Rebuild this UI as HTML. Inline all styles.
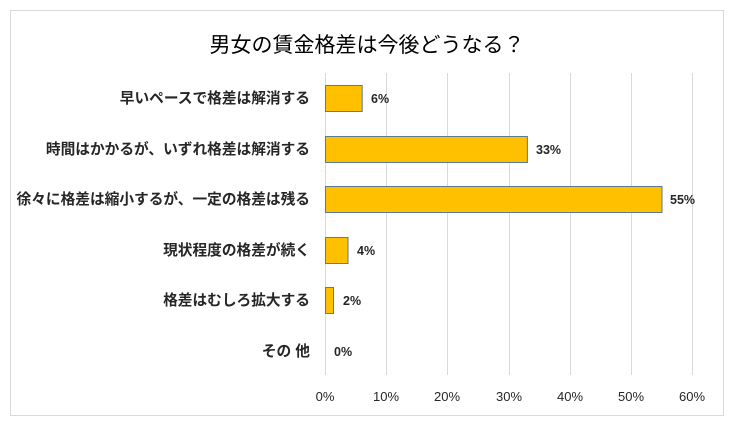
<!DOCTYPE html>
<html><head><meta charset="utf-8"><style>
body{margin:0;background:#fff;}
svg text{font-family:"Liberation Sans","Noto Sans CJK JP",sans-serif;}
</style></head><body>
<svg width="734" height="431" xmlns="http://www.w3.org/2000/svg">
<rect x="0" y="0" width="734" height="431" fill="#fff"/>
<rect x="10.5" y="10.5" width="713" height="405" fill="#fff" stroke="#d9d9d9"/>
<text x="367" y="52" font-size="21" text-anchor="middle" fill="#000">男女の賃金格差は今後どうなる？</text>
<g stroke="#d9d9d9" stroke-width="1">
<line x1="325.5" y1="73" x2="325.5" y2="375"/>
<line x1="386.5" y1="73" x2="386.5" y2="375"/>
<line x1="447.5" y1="73" x2="447.5" y2="375"/>
<line x1="509.5" y1="73" x2="509.5" y2="375"/>
<line x1="570.5" y1="73" x2="570.5" y2="375"/>
<line x1="631.5" y1="73" x2="631.5" y2="375"/>
<line x1="692.5" y1="73" x2="692.5" y2="375"/>
</g>
<g font-size="13" fill="#262626" text-anchor="middle">
<text x="325" y="401">0%</text><text x="386" y="401">10%</text><text x="447" y="401">20%</text>
<text x="509" y="401">30%</text><text x="570" y="401">40%</text><text x="631" y="401">50%</text><text x="692" y="401">60%</text>
</g>
<g fill="#ffc000" stroke="#5b7a95" stroke-width="1">
<rect x="325.5" y="85.5" width="36.7" height="26"/>
<rect x="325.5" y="136.5" width="201.9" height="26"/>
<rect x="325.5" y="186.5" width="336.5" height="26"/>
<rect x="325.5" y="237.5" width="22.5" height="26"/>
<rect x="325.5" y="287.5" width="8" height="26"/>
</g>
<g font-size="12.5" font-weight="bold" fill="#262626">
<text x="371" y="103">6%</text>
<text x="536" y="154">33%</text>
<text x="670" y="204">55%</text>
<text x="357" y="255">4%</text>
<text x="343" y="305">2%</text>
<text x="334" y="356">0%</text>
</g>
<g font-size="14.7" font-weight="bold" fill="#262626" text-anchor="end">
<text x="310" y="103">早いペースで格差は解消する</text>
<text x="310" y="154">時間はかかるが、いずれ格差は解消する</text>
<text x="310" y="204">徐々に格差は縮小するが、一定の格差は残る</text>
<text x="310" y="255">現状程度の格差が続く</text>
<text x="310" y="305">格差はむしろ拡大する</text>
<text x="310" y="356">その 他</text>
</g>
</svg>
</body></html>
